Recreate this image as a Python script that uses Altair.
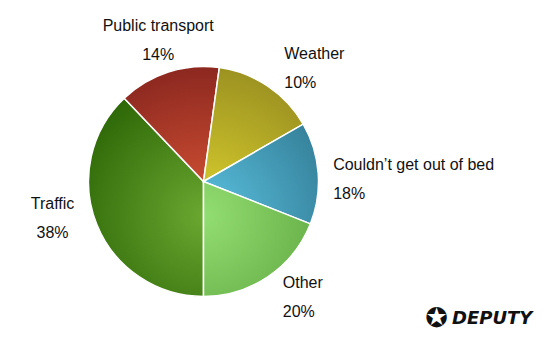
import math
import pandas as pd
import altair as alt

# ---------------- data ----------------
categories = ["Traffic", "Public transport", "Weather",
              "Couldn\u2019t get out of bed", "Other"]
# slice sizes as drawn in the picture (share of the full circle, %)
drawn_share = [37.9, 14.3, 14.5, 14.3, 19.0]
# percentages printed in the labels
label_pct = ["38%", "14%", "10%", "18%", "20%"]
# radial-gradient colours per slice (near pie centre -> towards rim)
light_colors = ["#6aa730", "#d95535", "#ddd22e", "#5bc2e0", "#93de73"]
dark_colors = ["#2a6405", "#8c2820", "#9c9221", "#327b94", "#5ca33c"]

# ---------------- layout / style ----------------
PIE_R = 115
START_DEG = 180.0
total = sum(drawn_share)
LINE_H = 29
label_layout = {  # align, radius, dx, dy (dy centres the two-line block)
    "Traffic": ("center", 155, -7, -21 - LINE_H / 2),
    "Public transport": ("center", 148, 0, -LINE_H / 2),
    "Weather": ("left", 139, 3, 2 - LINE_H / 2),
    "Couldn\u2019t get out of bed": ("left", 130, 0, 7 - LINE_H / 2),
    "Other": ("left", 141, 0, -1 - LINE_H / 2),
}
FONT = "Liberation Sans"


def slice_gradient(a0, a1, light, dark, focus=(0.0, 0.3), spread=1.3):
    """Radial gradient centred slightly below the pie centre, expressed in
    the slice's own bounding-box units (Vega wraps it in a square pattern)."""
    pts = [(0.0, 0.0)]
    for a in (a0, a1):
        r = math.radians(a)
        pts.append((math.sin(r), -math.cos(r)))
    k = math.floor(a0 / 90) + 1
    while k * 90 < a1:
        r = math.radians(k * 90)
        pts.append((math.sin(r), -math.cos(r)))
        k += 1
    xs = [p[0] for p in pts]
    ys = [p[1] for p in pts]
    w = max(xs) - min(xs)
    h = max(ys) - min(ys)
    s = max(w, h)
    ox = min(xs) + w / 2 - s / 2
    oy = min(ys) + h / 2 - s / 2
    fx = (focus[0] - ox) / s
    fy = (focus[1] - oy) / s
    return {
        "gradient": "radial",
        "x1": fx, "y1": fy, "r1": 0,
        "x2": fx, "y2": fy, "r2": spread / s,
        "stops": [{"offset": 0, "color": light}, {"offset": 1, "color": dark}],
    }


df = pd.DataFrame({
    "category": categories,
    "share": drawn_share,
    "pct": label_pct,
    "idx": list(range(len(categories))),
})
df["label"] = df["category"] + "\n" + df["pct"]

base = alt.Chart(df).transform_window(
    cum="sum(share)", sort=[alt.SortField("idx")], frame=[None, 0]
).transform_calculate(
    start="datum.cum - datum.share",
    mid="datum.cum - datum.share / 2",
)

theta_scale = alt.Scale(domain=[0, total],
                        range=[math.pi, 3 * math.pi])

layers = []
acc = 0.0
for i, cat in enumerate(categories):
    a0 = START_DEG + acc / total * 360
    acc += drawn_share[i]
    a1 = START_DEG + acc / total * 360
    grad = slice_gradient(a0, a1, light_colors[i], dark_colors[i])
    layers.append(
        base.transform_filter(alt.datum.idx == i)
        .mark_arc(outerRadius=PIE_R, fill=grad, stroke="white",
                  strokeWidth=1.5)
        .encode(theta=alt.Theta("start:Q", scale=theta_scale, stack=False),
                theta2="cum:Q")
    )

for i, cat in enumerate(categories):
    align, rad, dx, dy = label_layout[cat]
    layers.append(
        base.transform_filter(alt.datum.idx == i)
        .mark_text(radius=rad, align=align, baseline="middle", dx=dx, dy=dy,
                   lineBreak="\n", lineHeight=LINE_H, fontSize=16, font=FONT,
                   color="#111111")
        .encode(theta=alt.Theta("mid:Q", scale=theta_scale, stack=False),
                text="label:N")
    )

logo_df = pd.DataFrame({"brand": ["DEPUTY"], "icon": ["\u272a"]})
logo_icon = alt.Chart(logo_df).mark_text(
    font="DejaVu Sans", fontSize=27, align="center", baseline="middle",
    color="#111111"
).encode(x=alt.value(436.5), y=alt.value(296), text="icon:N")
logo_text = alt.Chart(logo_df).mark_text(
    font="DejaVu Sans", fontSize=18, fontWeight="bold", fontStyle="italic",
    align="left", baseline="middle", color="#111111"
).encode(x=alt.value(452), y=alt.value(296), text="brand:N")
layers += [logo_icon, logo_text]

chart = alt.layer(*layers).properties(
    width=407, height=317,
    padding={"left": 0, "top": 23, "right": 143, "bottom": 0},
    autosize=alt.AutoSizeParams(type="none"),
    background="white",
).configure_view(stroke=None)

chart.save("out.html", embed_options={"renderer": "svg", "actions": False})
